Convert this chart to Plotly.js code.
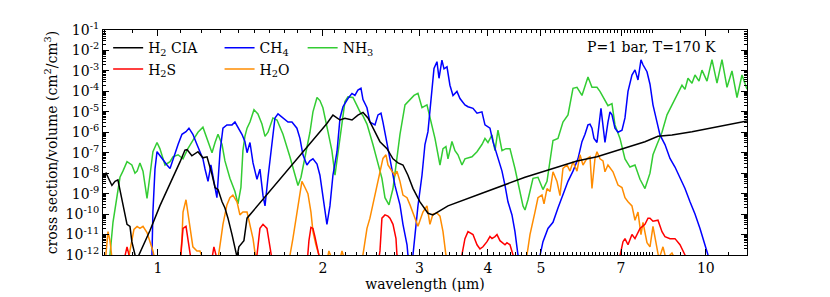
<!DOCTYPE html>
<html><head><meta charset="utf-8">
<script src="https://cdn.plot.ly/plotly-3.0.1.min.js"></script>
<style>html,body{margin:0;padding:0;background:#fff}#chart{width:830px;height:297px}</style>
</head><body><div id="chart"></div>
<script>
// ---- data (wavelength in micron, log10 of cross section per volume in cm^2/cm^3) ----
const h2ciaWavelength = [0.794,0.804,0.824,0.835,0.845,0.863,0.878,0.889,0.896,0.908,0.916,0.923,0.967,1.008,1.052,1.097,1.120,1.130,1.153,1.183,1.208,1.229,1.255,1.271,1.287,1.309,1.325,1.342,1.365,1.382,1.394,1.405,1.435,1.454,1.535,1.601,1.670,1.741,1.816,1.894,1.934,1.975,2.034,2.086,2.149,2.194,2.260,2.317,2.367,2.417,2.468,2.542,2.618,2.685,2.742,2.800,2.859,2.920,3.007,3.033,3.110,3.176,3.383,3.902,4.676,5.260,5.818,6.328,7.269,7.742,8.177,8.673,9.433,10.52,11.89];
const h2ciaLogSigma = [-8.1,-8.0,-8.6,-8.4,-8.33,-9.55,-10.5,-10.6,-11.35,-12.0,-12.4,-12.0,-10.8,-9.6,-8.55,-7.45,-6.87,-6.85,-7.15,-6.95,-7.25,-7.2,-8.07,-8.7,-8.8,-9.4,-9.7,-10.2,-11.0,-11.7,-12.1,-11.6,-11.3,-10.2,-9.45,-8.88,-8.3,-7.73,-7.16,-6.54,-6.3,-6.0,-5.57,-5.16,-5.4,-5.32,-5.4,-5.16,-5.03,-5.3,-5.8,-6.46,-6.8,-7.3,-7.5,-7.6,-8.1,-8.74,-9.4,-9.55,-9.96,-10.04,-9.6,-8.98,-8.2,-7.77,-7.4,-7.2,-6.7,-6.46,-6.2,-6.13,-5.97,-5.73,-5.45];

const ch4Wavelength = [0.967,0.975,0.979,0.9875,0.996,1.017,1.0385,1.052,1.065,1.088,1.106,1.125,1.139,1.158,1.178,1.193,1.208,1.218,1.234,1.249,1.271,1.281,1.298,1.314,1.336,1.365,1.382,1.3995,1.423,1.441,1.454,1.472,1.491,1.516,1.535,1.555,1.568,1.588,1.614,1.635,1.656,1.691,1.727,1.756,1.793,1.816,1.839,1.870,1.894,1.918,1.951,1.975,2.000,2.034,2.060,2.086,2.122,2.149,2.176,2.222,2.260,2.288,2.317,2.347,2.367,2.407,2.437,2.489,2.521,2.553,2.574,2.618,2.651,2.707,2.765,2.800,2.848,2.859,2.884,2.920,2.945,2.982,3.033,3.071,3.110,3.163,3.190,3.230,3.258,3.298,3.327,3.369,3.411,3.455,3.513,3.558,3.633,3.680,3.758,3.822,3.902,3.952,4.036,4.087,4.157,4.245,4.299,4.353,4.427,4.483,4.540,4.578,4.938,4.980,5.043,5.150,5.260,5.371,5.485,5.602,5.721,5.842,5.892,5.941,6.017,6.093,6.145,6.196,6.249,6.328,6.435,6.490,6.544,6.627,6.683,6.739,6.825,6.912,7.029,7.118,7.209,7.330,7.424,7.518,7.613,7.678,7.808,7.907,8.007,8.143,8.246,8.421,8.600,8.783,8.970,9.160,9.355,9.553,9.756,9.963,10.09,10.175];
const ch4LogSigma = [-12.5,-12.0,-9.9,-7.8,-6.95,-7.3,-7.6,-7.77,-7.3,-6.6,-6.1,-5.97,-5.8,-6.1,-6.6,-6.95,-7.3,-7.77,-8.4,-7.6,-8.6,-9.2,-6.95,-5.8,-5.64,-5.64,-5.5,-5.75,-6.1,-6.45,-7.0,-6.5,-7.5,-8.3,-7.8,-9.1,-9.6,-8.2,-6.5,-5.3,-5.1,-5.3,-5.5,-5.5,-5.8,-6.3,-7.1,-7.6,-7.4,-7.3,-7.55,-8.1,-9.2,-10.5,-9.6,-8.1,-6.95,-5.3,-4.75,-4.35,-4.1,-4.2,-3.94,-3.85,-4.4,-4.8,-5.5,-5.64,-5.15,-5.07,-5.5,-6.46,-7.3,-8.6,-9.55,-10.5,-11.5,-12.0,-12.5,-12.0,-10.9,-9.6,-8.1,-6.6,-5.97,-4.0,-2.88,-2.55,-3.36,-2.47,-2.9,-2.8,-3.7,-4.2,-4.0,-4.35,-4.66,-4.75,-4.83,-5.07,-5.0,-5.64,-5.8,-6.46,-7.1,-7.9,-8.6,-9.4,-10.04,-10.86,-12.0,-12.5,-12.5,-12.0,-11.35,-10.7,-10.4,-9.7,-9.07,-8.4,-7.9,-7.3,-6.87,-6.46,-6.1,-5.64,-5.6,-5.8,-6.3,-6.5,-4.83,-5.6,-6.5,-5.5,-5.0,-5.15,-5.8,-6.0,-5.9,-5.3,-4.0,-3.2,-2.95,-3.44,-2.46,-2.7,-3.04,-3.65,-4.66,-5.5,-6.13,-6.6,-7.28,-7.7,-8.2,-8.75,-9.4,-10.0,-10.7,-11.5,-12.0,-12.5];

const nh3Wavelength = [0.8105,0.8173,0.8277,0.835,0.8417,0.8524,0.863,0.878,0.896,0.908,0.916,0.927,0.939,0.947,0.955,0.967,0.979,0.996,1.008,1.030,1.052,1.065,1.088,1.111,1.134,1.158,1.183,1.208,1.234,1.255,1.271,1.287,1.309,1.325,1.353,1.382,1.3995,1.417,1.429,1.441,1.454,1.472,1.497,1.522,1.548,1.568,1.588,1.621,1.649,1.691,1.741,1.778,1.801,1.824,1.855,1.894,1.918,1.951,1.975,2.000,2.043,2.077,2.104,2.131,2.167,2.194,2.222,2.269,2.308,2.337,2.367,2.407,2.468,2.510,2.563,2.596,2.640,2.685,2.730,2.765,2.824,2.884,2.933,2.982,3.033,3.097,3.136,3.203,3.271,3.313,3.354,3.383,3.440,3.484,3.528,3.588,3.633,3.742,3.822,3.902,3.952,4.002,4.070,4.122,4.174,4.245,4.317,4.390,4.483,4.578,4.637,4.676,4.735,4.836,4.938,5.043,5.129,5.260,5.371,5.485,5.602,5.721,5.818,5.941,6.017,6.093,6.196,6.328,6.408,6.544,6.627,6.739,6.825,6.970,7.118,7.269,7.424,7.582,7.742,7.907,8.007,8.143,8.316,8.493,8.673,8.857,9.045,9.160,9.276,9.433,9.553,9.716,9.838,10.048,10.260,10.479,10.701,10.929,11.160,11.398,11.639,11.887];
const nh3LogSigma = [-12.5,-12.0,-10.4,-9.8,-9.2,-8.2,-7.9,-7.44,-7.6,-8.0,-7.9,-7.5,-7.9,-8.6,-9.23,-8.1,-6.95,-6.5,-6.8,-7.6,-7.44,-7.2,-7.1,-7.3,-6.8,-6.4,-6.0,-5.75,-6.5,-7.0,-6.5,-6.1,-6.6,-7.4,-8.25,-8.9,-9.5,-8.7,-6.9,-6.2,-5.8,-5.5,-4.9,-5.1,-5.6,-6.2,-6.0,-5.3,-5.4,-6.1,-7.2,-8.0,-8.6,-8.2,-7.2,-6.0,-5.0,-4.3,-4.45,-4.8,-5.97,-6.9,-8.1,-7.0,-5.3,-4.5,-4.27,-4.3,-4.7,-5.0,-5.2,-5.6,-6.6,-7.3,-8.25,-9.2,-9.55,-8.75,-7.3,-6.1,-4.66,-4.4,-4.2,-4.1,-4.8,-4.66,-5.3,-6.3,-7.6,-6.8,-6.7,-7.3,-6.45,-6.9,-7.1,-7.6,-7.3,-7.2,-6.95,-6.6,-6.3,-6.5,-6.13,-6.9,-5.9,-6.9,-6.8,-6.8,-7.77,-8.9,-9.6,-9.8,-9.3,-8.25,-8.2,-8.8,-8.4,-6.4,-6.3,-5.5,-5.15,-3.85,-3.8,-4.2,-3.8,-3.3,-3.8,-3.8,-4.0,-4.4,-4.7,-4.6,-5.64,-6.3,-7.3,-7.7,-7.6,-8.3,-8.75,-8.0,-7.1,-6.6,-6.0,-5.15,-4.66,-4.2,-3.7,-3.9,-3.36,-3.6,-3.2,-3.5,-2.96,-3.5,-2.45,-3.6,-2.45,-3.8,-3.0,-4.3,-3.2,-3.9];

const h2sWavelength = [0.863,0.8705,0.878,0.8853,0.8927,1.097,1.106,1.111,1.125,1.134,1.144,1.153,1.249,1.260,1.265,1.276,1.287,1.503,1.516,1.535,1.555,1.581,1.594,1.608,1.621,1.870,1.886,1.902,1.918,1.934,1.951,1.967,1.984,2.521,2.542,2.563,2.596,2.629,2.651,2.685,2.719,2.730,2.753,3.558,3.588,3.633,3.680,3.726,3.758,3.822,3.870,3.919,3.986,4.036,4.070,4.122,4.157,4.209,4.299,4.335,4.390,4.446,4.483,6.912,6.970,7.059,7.118,7.209,7.330,7.424,7.582,7.742,7.841,7.907,8.007,8.109,8.177,8.316,8.421,8.600,8.783,8.970,9.084,9.160,9.276];
const h2sLogSigma = [-12.5,-12.0,-11.6,-12.0,-12.5,-12.5,-11.5,-10.7,-10.6,-11.3,-12.0,-12.5,-12.5,-11.9,-11.6,-12.0,-12.5,-12.5,-12.0,-10.7,-10.5,-10.7,-11.35,-12.0,-12.5,-12.5,-11.3,-10.65,-10.7,-11.1,-11.6,-12.0,-12.5,-12.5,-11.8,-10.2,-10.04,-10.1,-10.2,-10.5,-11.2,-12.0,-12.5,-12.5,-12.0,-11.2,-10.86,-10.95,-11.0,-11.5,-11.7,-11.6,-11.35,-11.1,-11.2,-11.1,-11.0,-11.3,-11.5,-11.4,-11.5,-12.0,-12.5,-12.5,-12.0,-11.35,-11.2,-11.5,-11.0,-11.2,-10.7,-10.5,-10.2,-10.2,-10.35,-10.3,-10.3,-10.86,-11.1,-11.2,-11.2,-11.5,-11.8,-12.0,-12.5];

const h2oWavelength = [0.797,0.8105,0.8173,0.824,0.831,0.8815,0.889,0.896,0.904,0.916,0.927,0.939,0.955,0.967,0.979,0.992,1.097,1.106,1.111,1.125,1.134,1.144,1.158,1.178,1.193,1.208,1.287,1.303,1.314,1.336,1.353,1.370,1.394,1.411,1.429,1.454,1.472,1.491,1.509,1.734,1.763,1.793,1.816,1.831,1.855,1.878,1.902,1.918,1.942,1.967,1.992,2.034,2.051,2.077,2.149,2.167,2.194,2.357,2.387,2.407,2.437,2.468,2.510,2.542,2.574,2.607,2.629,2.673,2.707,2.730,2.765,2.800,2.848,2.884,2.920,2.945,2.982,3.045,3.097,3.136,3.176,3.230,3.271,3.313,3.354,3.383,4.656,4.715,4.775,4.815,4.876,4.938,5.022,5.065,5.129,5.194,5.260,5.349,5.417,5.485,5.579,5.649,5.721,5.818,5.892,5.966,6.068,6.145,6.196,6.275,6.328,6.408,6.490,6.544,6.627,6.768,6.912,7.029,7.118,7.209,7.330,7.424,7.518,7.613,7.678,7.808,7.907,8.007,8.109,8.212,8.351,8.457,8.673,8.820];
const h2oLogSigma = [-13.0,-10.86,-11.3,-12.2,-13.0,-12.3,-11.8,-11.2,-10.75,-10.6,-10.7,-10.6,-10.9,-11.35,-11.8,-12.5,-12.5,-11.2,-9.9,-9.3,-9.9,-10.7,-11.6,-11.8,-11.8,-12.2,-12.2,-11.2,-10.5,-9.55,-9.2,-9.07,-9.4,-10.04,-9.9,-9.9,-10.5,-11.2,-12.2,-12.3,-11.2,-9.9,-8.9,-8.4,-8.7,-9.0,-9.9,-10.86,-11.5,-12.1,-12.5,-12.3,-11.8,-12.2,-12.2,-11.8,-12.3,-12.3,-11.3,-10.7,-10.2,-9.55,-8.58,-7.93,-7.28,-7.1,-7.6,-7.9,-8.1,-7.9,-8.4,-9.07,-9.2,-9.55,-9.9,-10.2,-10.6,-9.9,-9.6,-10.5,-10.0,-9.95,-10.1,-10.86,-12.0,-12.5,-12.5,-12.0,-11.0,-10.5,-9.9,-9.2,-9.07,-9.5,-8.75,-8.9,-7.93,-8.4,-9.1,-7.77,-7.6,-7.9,-7.44,-7.9,-7.1,-7.6,-7.28,-7.2,-8.75,-7.28,-6.95,-7.3,-7.4,-7.93,-7.6,-7.93,-8.58,-8.7,-9.2,-9.4,-9.6,-10.3,-9.9,-11.0,-10.4,-11.4,-11.6,-10.6,-11.5,-12.2,-11.6,-12.2,-11.9,-12.3];

const seriesNames = ['H<sub>2</sub> CIA', 'CH<sub>4</sub>', 'NH<sub>3</sub>', 'H<sub>2</sub>S', 'H<sub>2</sub>O'];
const yTickExponents = [-12,-11,-10,-9,-8,-7,-6,-5,-4,-3,-2,-1];
const xTickValues = [1,2,3,4,5,7,10];
const xTickLabels = ['1','2','3','4','5','7','10'];

// ---- styling helpers ----
const toLinear = a => a.map(v => Math.pow(10, v));
const FONT = '"DejaVu Serif", "Liberation Serif", serif';
function line(name, x, logy, color, legend, rank) {
  return {type:'scatter', mode:'lines', name:name, x:x, y:toLinear(logy),
          line:{color:color, width:1.5}, legend:legend, legendrank:rank, hoverinfo:'skip'};
}
const h2cia = line(seriesNames[0], h2ciaWavelength, h2ciaLogSigma, '#000000', 'legend', 1);
const h2s   = line(seriesNames[3], h2sWavelength, h2sLogSigma, '#ff0000', 'legend', 2);
const ch4   = line(seriesNames[1], ch4Wavelength, ch4LogSigma, '#0000ff', 'legend2', 1);
const h2o   = line(seriesNames[4], h2oWavelength, h2oLogSigma, '#ff8c00', 'legend2', 2);
const nh3   = line(seriesNames[2], nh3Wavelength, nh3LogSigma, '#33cc33', 'legend3', 1);
const drawOrder = [nh3, ch4, h2o, h2s, h2cia];

const xMinor = [];
for (let i = 8; i <= 80; i++) { if (i % 10 !== 0 || i === 60 || i === 80) xMinor.push(i / 10); }
xMinor.push(9, 11);
const yMinor = [];
yTickExponents.forEach(e => { for (let m = 2; m <= 9; m++) yMinor.push(m * Math.pow(10, e)); });

const legendCommon = {bgcolor:'rgba(0,0,0,0)', borderwidth:0, font:{family:FONT, size:14, color:'#000'},
  xanchor:'left', yanchor:'top', tracegroupgap:0, traceorder:'normal'};

const layout = {
  width:830, height:297,
  margin:{l:103, r:83, t:30, b:42},
  paper_bgcolor:'#fff', plot_bgcolor:'#fff',
  font:{family:FONT, size:14, color:'#000'},
  showlegend:true,
  legend: Object.assign({x:0.008, y:0.99}, legendCommon),
  legend2: Object.assign({x:0.181, y:0.99}, legendCommon),
  legend3: Object.assign({x:0.31, y:0.99}, legendCommon),
  xaxis:{type:'log', range:[Math.log10(0.7937), Math.log10(11.887)],
    tickmode:'array', tickvals:xTickValues, ticktext:xTickLabels,
    ticks:'inside', ticklen:6, tickwidth:1, tickcolor:'#000',
    minor:{tickmode:'array', tickvals:xMinor, ticks:'inside', ticklen:3, tickwidth:1, tickcolor:'#000', showgrid:false},
    showline:true, linecolor:'#000', linewidth:1, mirror:'allticks',
    showgrid:false, zeroline:false, tickfont:{family:FONT, size:14},
    title:{text:'wavelength (\u03bcm)', font:{family:FONT, size:14}, standoff:0}},
  yaxis:{type:'log', range:[-12, -1],
    tickmode:'array', tickvals:yTickExponents.map(e => Math.pow(10, e)),
    ticktext:yTickExponents.map(e => '10<sup>' + e + '</sup>'),
    ticks:'inside', ticklen:6, tickwidth:1, tickcolor:'#000',
    minor:{tickmode:'array', tickvals:yMinor, ticks:'inside', ticklen:3, tickwidth:1, tickcolor:'#000', showgrid:false},
    showline:true, linecolor:'#000', linewidth:1, mirror:'allticks',
    showgrid:false, zeroline:false, tickfont:{family:FONT, size:14},
    title:{text:'cross section/volume (cm<sup>2</sup>/cm<sup>3</sup>)', font:{family:FONT, size:14}, standoff:4}},
  annotations:[{xref:'paper', yref:'paper', x:0.852, y:0.925, xanchor:'center', yanchor:'middle',
    text:'P=1 bar, T=170 K', showarrow:false, font:{family:FONT, size:14, color:'#000'}}]
};

Plotly.newPlot('chart', drawOrder, layout, {displayModeBar:false, staticPlot:true});
</script></body></html>
